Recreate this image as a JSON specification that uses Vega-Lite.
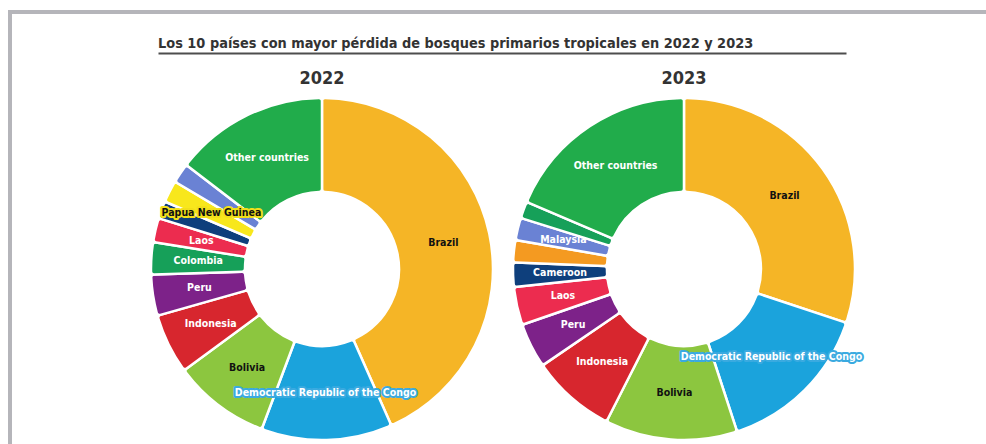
{
  "$schema": "https://vega.github.io/schema/vega-lite/v6.json",
  "width": 996,
  "height": 514,
  "autosize": {"type": "none"},
  "padding": {"left": 10, "top": 12, "right": -20, "bottom": -82},
  "background": "white",
  "config": {
    "view": {"stroke": "#b5b5ba", "strokeWidth": 4},
    "font": "DejaVu Sans Condensed, DejaVu Sans, sans-serif"
  },
  "title": {
    "text": "Los 10 países con mayor pérdida de bosques primarios tropicales en 2022 y 2023",
    "anchor": "start",
    "frame": "group",
    "baseline": "bottom",
    "offset": -53,
    "dx": 148,
    "fontSize": 14.4,
    "fontWeight": "bold",
    "color": "#333333",
    "font": "DejaVu Sans Condensed, DejaVu Sans, sans-serif"
  },
  "data": {
    "values": [
      {"year": "2022", "country": "Brazil", "label": "Brazil", "value": 1777, "rank": 1},
      {"year": "2022", "country": "Democratic Republic of the Congo", "label": "Democratic Republic of the Congo", "value": 507, "rank": 2},
      {"year": "2022", "country": "Bolivia", "label": "Bolivia", "value": 376, "rank": 3},
      {"year": "2022", "country": "Indonesia", "label": "Indonesia", "value": 233, "rank": 4},
      {"year": "2022", "country": "Peru", "label": "Peru", "value": 159, "rank": 5},
      {"year": "2022", "country": "Colombia", "label": "Colombia", "value": 125, "rank": 6},
      {"year": "2022", "country": "Laos", "label": "Laos", "value": 93, "rank": 7},
      {"year": "2022", "country": "Cameroon", "label": "", "value": 68, "rank": 8},
      {"year": "2022", "country": "Papua New Guinea", "label": "Papua New Guinea", "value": 85, "rank": 9},
      {"year": "2022", "country": "Malaysia", "label": "", "value": 77, "rank": 10},
      {"year": "2022", "country": "Other countries", "label": "Other countries", "value": 598, "rank": 11},
      {"year": "2023", "country": "Brazil", "label": "Brazil", "value": 1114, "rank": 1},
      {"year": "2023", "country": "Democratic Republic of the Congo", "label": "Democratic Republic of the Congo", "value": 551, "rank": 2},
      {"year": "2023", "country": "Bolivia", "label": "Bolivia", "value": 463, "rank": 3},
      {"year": "2023", "country": "Indonesia", "label": "Indonesia", "value": 296, "rank": 4},
      {"year": "2023", "country": "Peru", "label": "Peru", "value": 157, "rank": 5},
      {"year": "2023", "country": "Laos", "label": "Laos", "value": 133, "rank": 6},
      {"year": "2023", "country": "Cameroon", "label": "Cameroon", "value": 85, "rank": 7},
      {"year": "2023", "country": "Nicaragua", "label": "", "value": 78, "rank": 8},
      {"year": "2023", "country": "Malaysia", "label": "Malaysia", "value": 78, "rank": 9},
      {"year": "2023", "country": "Colombia", "label": "", "value": 59, "rank": 10},
      {"year": "2023", "country": "Other countries", "label": "Other countries", "value": 688, "rank": 11}
    ]
  },
  "encoding": {
    "x": {
      "field": "year",
      "type": "nominal",
      "scale": {"type": "point", "domain": ["2022", "2023"], "range": [148, 836], "padding": 0.4503, "align": 0.503},
      "axis": {"orient": "top", "offset": -41, "domain": true, "domainColor": "#4d4d4d", "domainWidth": 2, "ticks": false, "labels": false, "grid": false, "title": null}
    }
  },
  "layer": [
    {
      "transform": [{"filter": "datum.year === '2022'"}],
      "encoding": {
        "theta": {"field": "value", "type": "quantitative", "stack": true},
        "order": {"field": "rank", "type": "quantitative"}
      },
      "layer": [
        {
          "mark": {"type": "arc", "radius": 171, "radius2": 77, "stroke": "white", "strokeWidth": 2.5, "cornerRadius": 3},
          "encoding": {
            "color": {
              "field": "country", "type": "nominal", "legend": null,
              "scale": {
                "domain": ["Brazil", "Democratic Republic of the Congo", "Bolivia", "Indonesia", "Peru", "Colombia", "Laos", "Cameroon", "Papua New Guinea", "Malaysia", "Nicaragua", "Other countries"],
                "range": ["#F5B526", "#1BA3DC", "#8CC63F", "#D7262E", "#7D2289", "#16A059", "#EC2C4F", "#0E3F7C", "#F8E71C", "#6A82D4", "#F49A21", "#21AC4B"]
              }
            }
          }
        },
        {
          "mark": {"type": "text", "radius": 124, "fontSize": 10.5, "fontWeight": "bold", "strokeWidth": 4, "strokeJoin": "round", "align": "center", "baseline": "middle"},
          "encoding": {
            "text": {"field": "label"},
            "detail": {"field": "country"},
            "color": {"condition": [{"test": "datum.country === 'Democratic Republic of the Congo'", "value": "#3aaae0"}, {"test": "datum.country === 'Papua New Guinea'", "value": "#f2df1a"}], "value": "transparent"},
            "stroke": {"condition": [{"test": "datum.country === 'Democratic Republic of the Congo'", "value": "#3aaae0"}, {"test": "datum.country === 'Papua New Guinea'", "value": "#f2df1a"}], "value": "transparent"}
          }
        },
        {
          "mark": {"type": "text", "radius": 124, "fontSize": 10.5, "fontWeight": "bold", "align": "center", "baseline": "middle"},
          "encoding": {
            "text": {"field": "label"},
            "detail": {"field": "country"},
            "color": {"condition": {"test": "indexof(['Brazil','Bolivia','Papua New Guinea'], datum.country) >= 0", "value": "#111111"}, "value": "white"}
          }
        }
      ]
    },
    {
      "transform": [{"filter": "datum.year === '2023'"}],
      "encoding": {
        "theta": {"field": "value", "type": "quantitative", "stack": true},
        "order": {"field": "rank", "type": "quantitative"}
      },
      "layer": [
        {
          "mark": {"type": "arc", "radius": 171, "radius2": 77, "stroke": "white", "strokeWidth": 2.5, "cornerRadius": 3},
          "encoding": {
            "color": {"field": "country", "type": "nominal", "legend": null}
          }
        },
        {
          "mark": {"type": "text", "radius": 124, "fontSize": 10.5, "fontWeight": "bold", "strokeWidth": 4, "strokeJoin": "round", "align": "center", "baseline": "middle"},
          "encoding": {
            "text": {"field": "label"},
            "detail": {"field": "country"},
            "color": {"condition": [{"test": "datum.country === 'Democratic Republic of the Congo'", "value": "#3aaae0"}], "value": "transparent"},
            "stroke": {"condition": [{"test": "datum.country === 'Democratic Republic of the Congo'", "value": "#3aaae0"}], "value": "transparent"}
          }
        },
        {
          "mark": {"type": "text", "radius": 124, "fontSize": 10.5, "fontWeight": "bold", "align": "center", "baseline": "middle"},
          "encoding": {
            "text": {"field": "label"},
            "detail": {"field": "country"},
            "color": {"condition": {"test": "indexof(['Brazil','Bolivia','Papua New Guinea'], datum.country) >= 0", "value": "#111111"}, "value": "white"}
          }
        }
      ]
    },
    {
      "data": {"values": [{"year": "2022"}, {"year": "2023"}]},
      "mark": {"type": "text", "radius": 190, "theta": 0, "fontSize": 18, "fontWeight": "bold", "color": "#333333", "align": "center", "baseline": "middle"},
      "encoding": {"text": {"field": "year"}}
    }
  ],
  "resolve": {"scale": {"theta": "independent"}}
}
